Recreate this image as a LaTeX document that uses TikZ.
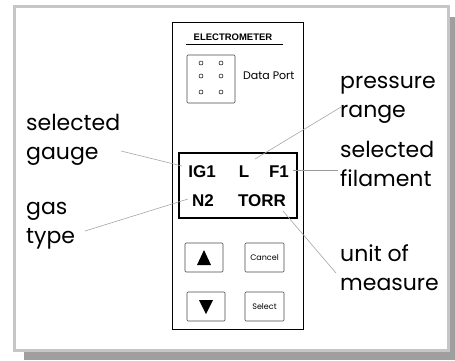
\documentclass[tikz,border=0pt]{standalone}
\usepackage{fontspec}
\setmainfont{Poppins}
\newfontfamily\dispfont{Liberation Sans}
\begin{document}
\begin{tikzpicture}[x=1pt,y=-1pt,
  lead/.style={draw=gray!70,line width=0.6pt},
  lbl/.style={anchor=north west,inner sep=0pt,align=left,font=\fontsize{22}{29}\selectfont},
  btn/.style={draw=black!70,line width=0.6pt,rounded corners=1pt},
  disp/.style={font=\dispfont\bfseries\fontsize{17}{17}\selectfont,inner sep=0pt},
  hole/.style={circle,draw,line width=0.5pt,inner sep=0pt,minimum size=4pt}]
\useasboundingbox (0,0) rectangle (455,360);
% shadow and frame
\fill[gray!75] (24,17) rectangle (455,360);
\fill[white] (14,6) rectangle (448,350);
\draw[gray!45,line width=3pt] (14,6) rectangle (448,350);
% panel
\draw[line width=0.6pt] (172,22) rectangle (303,329);
\node[font=\dispfont\bfseries\fontsize{9.5}{10}\selectfont,inner sep=0pt] (title) at (233,37) {ELECTROMETER};
\draw[line width=1pt] (186,44) -- (283,44);
% data port
\draw[btn] (187,55) rectangle (235,103);
\foreach \i/\x/\y in {a/201/63,b/221/63,c/201/76,d/221/76,e/201/92,f/221/92}
  \node[hole] (h\i) at (\x,\y) {};
\node[font=\fontsize{11}{12}\selectfont,inner sep=0pt,anchor=west] (dp) at (243,76) {Data Port};
% display
\node[draw,line width=2pt,minimum width=118pt,minimum height=65pt,inner sep=0pt] (display) at (238,185.5) {};
\node[disp] (ig) at (202,172) {IG1};
\node[disp] (L) at (244,172) {L};
\node[disp] (F) at (279,172) {F1};
\node[disp] (N) at (203,201) {N2};
\node[disp] (T) at (262,201) {TORR};
% buttons
\draw[btn] (185,243) rectangle (223,272);
\fill (204,250) -- (211,265) -- (197,265) -- cycle;
\draw[btn] (245,243) rectangle (284,272);
\node[font=\fontsize{8}{8}\selectfont,inner sep=0pt] (cancel) at (264.5,258) {Cancel};
\draw[btn] (187,292) rectangle (225,321);
\fill (199,300) -- (213,300) -- (206,314) -- cycle;
\draw[btn] (245,292) rectangle (284,321);
\node[font=\fontsize{8}{8}\selectfont,inner sep=0pt] (select) at (264.5,307) {Select};
% labels
\node[lbl] (sg) at (26,114) {selected\\gauge};
\node[lbl] (gt) at (26,202) {gas\\type};
\node[lbl] (pr) at (340,76) {pressure\\range};
\node[lbl] (sf) at (340,141) {selected\\filament};
\node[lbl] (um) at (340,244) {unit of\\measure};
% leaders
\coordinate (sg1) at (121,151); \coordinate (sg2) at (182,166);
\coordinate (pr1) at (341,107); \coordinate (pr2) at (255,159);
\coordinate (sf1) at (293,170); \coordinate (sf2) at (338,170);
\coordinate (gt1) at (85,231); \coordinate (gt2) at (188,199);
\coordinate (um1) at (283,211); \coordinate (um2) at (336,273);
\draw[lead] (sg1) -- (sg2);
\draw[lead] (pr1) -- (pr2);
\draw[draw=gray!80,line width=1pt] (sf1) -- (sf2);
\draw[lead] (gt1) -- (gt2);
\draw[lead] (um1) -- (um2);
\end{tikzpicture}
\end{document}
